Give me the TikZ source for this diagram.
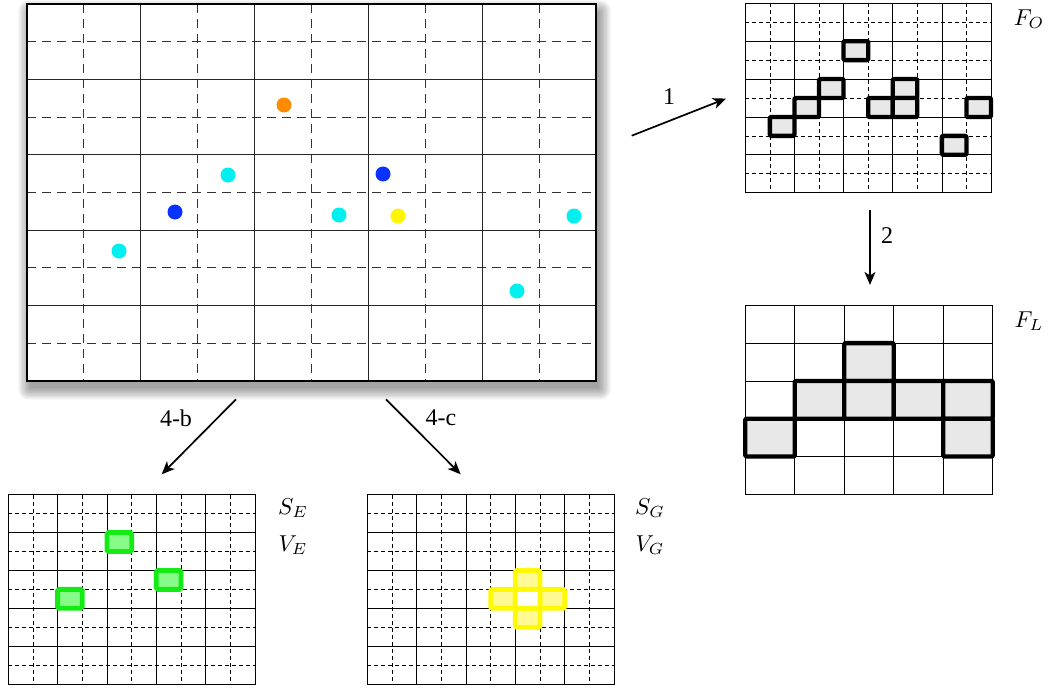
\documentclass[tikz,border=0pt]{standalone}
\usepackage{fontspec}
\newfontfamily\labfont{Liberation Serif}
\usetikzlibrary{arrows.meta}
\definecolor{dotorange}{RGB}{255,140,0}
\definecolor{dotcyan}{RGB}{0,240,240}
\definecolor{dotblue}{RGB}{10,50,255}
\definecolor{dotyellow}{RGB}{255,245,0}
\definecolor{hlgreen}{RGB}{20,235,20}
\definecolor{hlgreenfill}{RGB}{135,250,135}
\definecolor{hlyellow}{RGB}{255,250,0}
\definecolor{hlyellowfill}{RGB}{255,250,150}
\definecolor{hlgray}{RGB}{232,232,232}
\newcommand\mygrid[6]{% x0 y0 x1 y1 dashstyle solidstyle
  \foreach \i in {1,3,5,7,9}{
    \draw[#5] ({#1+(#3-#1)*\i/10},#2) -- ({#1+(#3-#1)*\i/10},#4);
    \draw[#5] (#1,{#2+(#4-#2)*\i/10}) -- (#3,{#2+(#4-#2)*\i/10});
  }
  \foreach \i in {1,...,4}{
    \draw[#6] ({#1+(#3-#1)*\i/5},#2) -- ({#1+(#3-#1)*\i/5},#4);
    \draw[#6] (#1,{#2+(#4-#2)*\i/5}) -- (#3,{#2+(#4-#2)*\i/5});
  }
}
\newcommand\biglab[1]{\scalebox{2.3}{$#1$}}
\begin{document}
\begin{tikzpicture}[x=1pt,y=-1pt,
  bigdash/.style={line width=1pt, black!80, dash pattern=on 9pt off 6pt},
  smalldash/.style={line width=0.7pt, black, dash pattern=on 4pt off 3pt},
  bigsolid/.style={line width=0.9pt, black!85},
  smallsolid/.style={line width=0.7pt, black},
  frame/.style={draw=black, line width=1.3pt, fill=none, inner sep=0pt, outer sep=0pt, anchor=north west},
  smallframe/.style={frame, line width=1pt},
  dot/.style={circle, inner sep=0pt, minimum size=15pt},
  hlbox/.style={draw=black, line width=4.3pt, fill=hlgray, line join=round, rounded corners=1pt},
  greenbox/.style={draw=hlgreen, line width=4.8pt, fill=hlgreenfill, rounded corners=1.5pt},
  yellowbox/.style={draw=hlyellow, line width=4.8pt, fill=hlyellowfill, rounded corners=1.5pt},
  arr/.style={line width=1.7pt, -{Stealth[length=13pt, width=11pt, inset=3.5pt]}},
  numlab/.style={font=\labfont\fontsize{24}{28}\selectfont, inner sep=0pt},
  mathlab/.style={inner sep=0pt}
]
\useasboundingbox (0,0) rectangle (1053,688);

% ---- big grid with shadow ----
\foreach \k in {0,...,9}
  \fill[black, opacity=0.045, rounded corners={1pt+\k*1pt}]
    ({27+3-\k*1.3},{4+8-\k*1.3}) rectangle ({596+3+\k*1.3},{381+7+\k*1.3});
\fill[white] (27,4) rectangle (596,381);
\mygrid{27}{4}{596}{381}{bigdash}{bigsolid}
\node[frame, minimum width=569pt, minimum height=377pt] (big) at (27,4) {};

\node[dot, fill=dotorange] (d1) at (284,105) {};
\node[dot, fill=dotcyan]   (d2) at (228,175) {};
\node[dot, fill=dotblue]   (d3) at (175,212) {};
\node[dot, fill=dotcyan]   (d4) at (119,251) {};
\node[dot, fill=dotblue]   (d5) at (383,174) {};
\node[dot, fill=dotcyan]   (d6) at (339,215) {};
\node[dot, fill=dotyellow] (d7) at (398,216) {};
\node[dot, fill=dotcyan]   (d8) at (574,216) {};
\node[dot, fill=dotcyan]   (d9) at (517,291) {};

% ---- F_O ----
\mygrid{745.3}{3.3}{991}{192.7}{smalldash}{smallsolid}
\node[smallframe, minimum width=245.7pt, minimum height=189.4pt] (fo) at (745.3,3.3) {};
\foreach \c/\r in {4/2,3/4,2/5,1/6,5/5,6/4,6/5,9/5,8/7}
  \draw[hlbox] ({745.3+24.57*\c},{3.3+18.94*\r}) rectangle ++(24.57,18.94);
\node[mathlab] (lfo) at (1029,19) {\biglab{F_O}};

% ---- F_L ----
\foreach \i in {1,...,4}{
  \draw[smallsolid] ({745.3+49.48*\i},305.3) -- ({745.3+49.48*\i},494.3);
  \draw[smallsolid] (745.3,{305.3+37.8*\i}) -- (992.7,{305.3+37.8*\i});
}
\node[smallframe, minimum width=247.4pt, minimum height=189pt] (fl) at (745.3,305.3) {};
\foreach \c/\r in {2/1,1/2,2/2,3/2,4/2,0/3,4/3}
  \draw[hlbox] ({745.3+49.48*\c},{305.3+37.8*\r}) rectangle ++(49.48,37.8);
\node[mathlab] (lfl) at (1029,321) {\biglab{F_L}};

% ---- S_E ----
\mygrid{8.3}{494.7}{255}{684}{smalldash}{smallsolid}
\node[smallframe, minimum width=246.7pt, minimum height=189.3pt] (se) at (8.3,494.7) {};
\foreach \c/\r in {4/2,6/4,2/5}
  \draw[greenbox] ({8.3+24.67*\c},{494.7+18.93*\r}) rectangle ++(24.67,18.93);
\node[mathlab] (lse) at (293,508) {\biglab{S_E}};
\node[mathlab] (lve) at (293,545) {\biglab{V_E}};

% ---- S_G ----
\mygrid{367.3}{494.7}{614}{684}{smalldash}{smallsolid}
\node[smallframe, minimum width=246.7pt, minimum height=189.3pt] (sg) at (367.3,494.7) {};
\foreach \c/\r in {6/4,5/5,7/5,6/6}
  \draw[yellowbox] ({367.3+24.67*\c},{494.7+18.93*\r}) rectangle ++(24.67,18.93);
\draw[yellowbox, fill=white] ({367.3+24.67*6},{494.7+18.93*5}) rectangle ++(24.67,18.93);
\node[mathlab] (lsg) at (650,508) {\biglab{S_G}};
\node[mathlab] (lvg) at (650,545) {\biglab{V_G}};

% ---- arrows ----
\coordinate (a1s) at (631.7,135.7);
\coordinate (a1e) at (726,98.6);
\coordinate (a2s) at (870,210);
\coordinate (a2e) at (870,285);
\coordinate (abs) at (236,399.3);
\coordinate (abe) at (161.7,474.3);
\coordinate (acs) at (386,399.3);
\coordinate (ace) at (460.7,474.3);
\draw[arr] (a1s) -- (a1e);
\draw[arr] (a2s) -- (a2e);
\draw[arr] (abs) -- (abe);
\draw[arr] (acs) -- (ace);
\node[numlab] (n1) at (669,97) {1};
\node[numlab] (n2) at (887,236) {2};
\node[numlab] (n4b) at (176,418) {4-b};
\node[numlab] (n4c) at (441,418) {4-c};
\end{tikzpicture}
\end{document}
